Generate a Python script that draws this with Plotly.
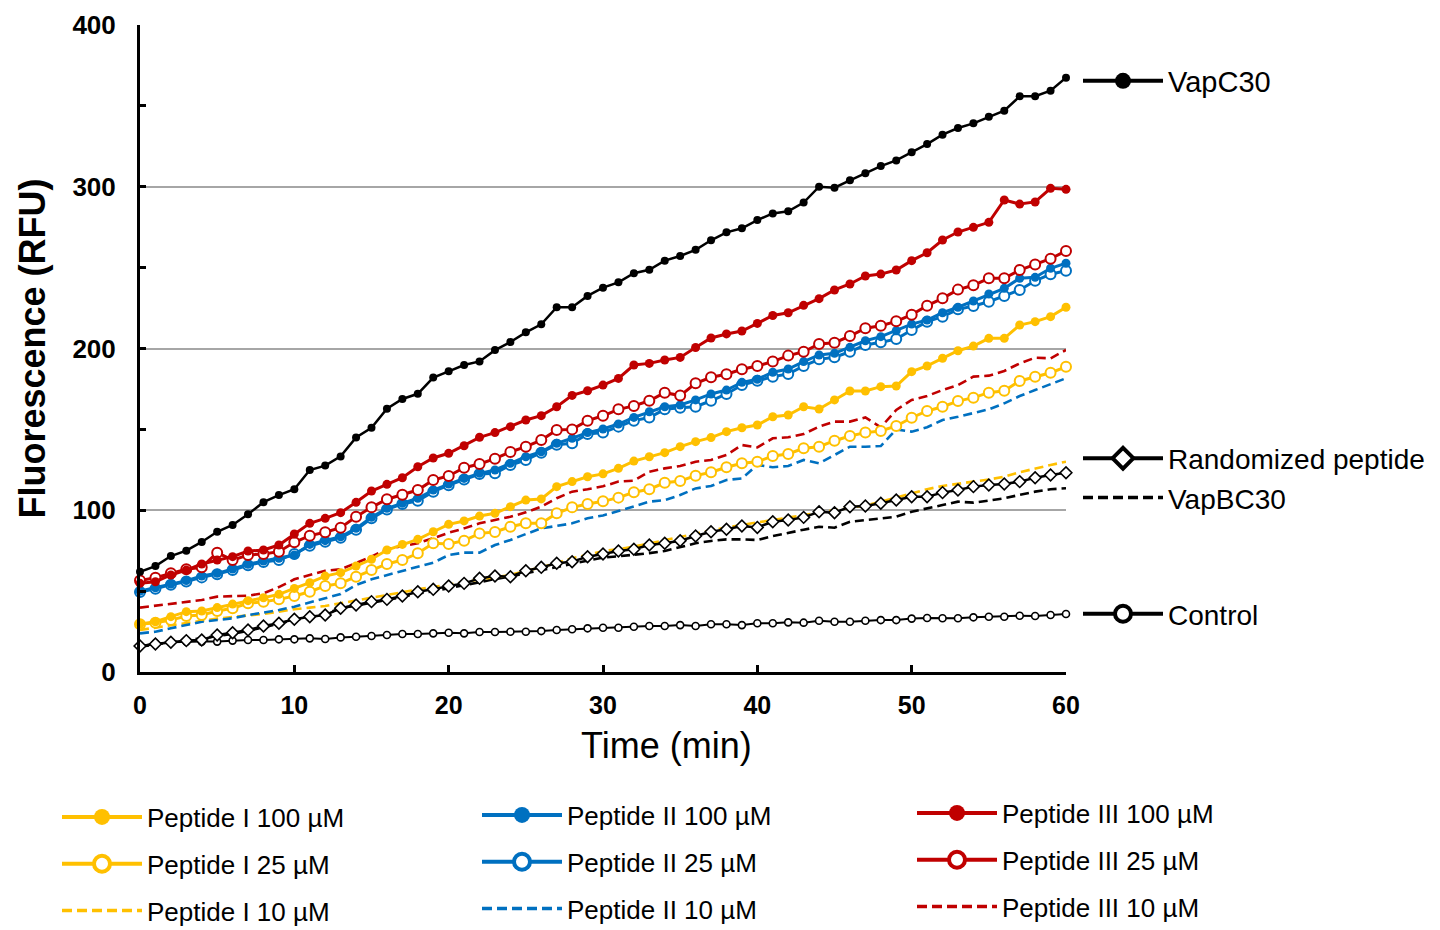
import plotly.graph_objects as go

# ---------------- data ----------------
time_min = list(range(61))

vapc30 = [62, 65.5, 71.7, 75, 80.4, 86.7, 90.9, 97.5, 105, 109.4,
          113, 124.9, 127.6, 133.3, 145, 151, 162.8, 168.8, 172, 182,
          185.9, 189.8, 192, 199, 204, 210, 215, 225.5, 225.5, 232.5,
          237.6, 240.9, 246.5, 248.7, 254.3, 257.2, 261, 266.9, 271.8, 274.3,
          279.4, 283.5, 284.8, 290.2, 300, 299.4, 304, 308.3, 312.8, 316.3,
          321.3, 326.4, 332.2, 336.3, 339.2, 343.3, 347, 355.9, 356, 359.4, 367.4]

pep3_100 = [54.8, 55.8, 60, 63, 66.8, 69.2, 71.3, 74.8, 75.4, 78.5,
            85.3, 91.9, 95, 98.5, 104.9, 111.9, 116, 120.1, 126.9, 132.3,
            135.2, 139.9, 145.1, 148, 151.7, 155.8, 158.5, 164, 171, 173.9,
            177.4, 181.5, 189.8, 190.8, 192.9, 194.5, 200.6, 206.5, 209, 210.8,
            215.5, 220.4, 222.1, 226.7, 230.8, 236.2, 239.9, 244.8, 246, 248.5,
            254.3, 259.2, 267.1, 272, 274.9, 278, 291.8, 289.3, 290.6, 299, 298.4]

pep3_25 = [56.5, 58.3, 61, 63.5, 64.7, 73.8, 69.2, 72.3, 73, 74.4,
           80.2, 84.3, 86.4, 89.2, 96, 101.8, 106.8, 109.6, 112.5, 118.7,
           121.2, 126.3, 128.6, 131.9, 136, 139.3, 143.4, 149.6, 150, 155.4,
           158.4, 162.4, 164.5, 167.7, 172.7, 170.9, 178.5, 182.2, 184.1, 187.2,
           189.2, 191.9, 195.6, 198, 202.8, 203.6, 207.7, 212.5, 214.1, 216.8,
           220.9, 226.5, 231, 236.4, 239.1, 243.4, 243.4, 248.5, 252, 255.5, 260.3]

pep3_10 = [39.8, 41, 42, 43.2, 44.5, 46.6, 47, 47.2, 48.7, 52.5,
           57.3, 60, 62.6, 63.5, 67.2, 71.3, 76, 77.9, 79.6, 82.7,
           86.1, 88.8, 91.9, 94, 96, 98.7, 102.2, 107.4, 111.5, 113,
           114.8, 117.7, 118.3, 123.8, 125.9, 127.4, 130, 131.1, 134.2, 140.3,
           138.9, 144.5, 145.1, 147.1, 151.7, 154.8, 154.8, 157.4, 151.3, 162,
           168.2, 170.6, 174.3, 177.4, 182.6, 183.2, 186.1, 190.8, 194.3, 193.9, 199.1]

pep2_100 = [50, 52.1, 54.4, 56.5, 59.3, 61, 63.7, 66.6, 68.6, 70.3,
            72.3, 78.9, 81.2, 83.6, 88.8, 95.6, 101.2, 104.3, 107.4, 112.5,
            116.2, 119.7, 122.8, 124.9, 129, 133.1, 136.2, 141.4, 144.5, 148,
            150.2, 153.3, 157.4, 160.9, 164, 165.1, 168.2, 171.9, 174.3, 179.1,
            181, 185.3, 187.3, 191.9, 196, 197, 200.7, 204.8, 207.3, 211,
            215.1, 217.6, 222.1, 225.5, 229.4, 233.7, 237.2, 243.4, 244, 249.6, 252.7]

pep2_25 = [49.5, 51.5, 54, 56, 58.5, 60.5, 63, 66, 68, 69.2,
           73, 78, 80.5, 83, 88, 95, 100.5, 103.9, 105.9, 111.5,
           115.5, 119, 122.4, 122.8, 128, 131, 135.5, 140.5, 141.4, 147.1,
           148, 151.7, 155.4, 157.3, 162.4, 163.4, 164, 167.7, 171.9, 177.4,
           180.1, 182.6, 184.2, 189.2, 193.3, 194.6, 198, 202.2, 203.8, 205.9,
           211.4, 216.6, 219.7, 224.2, 226.3, 228.9, 232.5, 236.2, 241.9, 245.9, 248.1]

pep2_10 = [23.9, 24.9, 27, 29, 31.1, 32.1, 33.2, 35.2, 36.7, 38.3,
           40.4, 42.8, 45.6, 48.2, 53.8, 57.3, 60, 62.6, 65.1, 67.6,
           72.3, 73.8, 73.8, 78.5, 81.6, 85.3, 88.8, 90.3, 91.9, 95,
           96.8, 99.5, 102.2, 105.3, 106.3, 109.4, 113.5, 115, 118.7, 119.7,
           128, 126.6, 127.4, 131.1, 129, 134.2, 139.3, 139.3, 139.7, 150,
           148.6, 151.3, 155.8, 157.8, 160.3, 162.4, 166.1, 170.6, 174.3, 177.9, 181.6]

pep1_100 = [29.7, 31.1, 34.2, 37.3, 37.7, 39.8, 42, 44.1, 45.9, 48,
            51.7, 55.2, 59.3, 61.4, 65.5, 69.7, 75.4, 78.9, 82, 86.7,
            91.3, 93.4, 96.4, 98.1, 102.2, 106.3, 107, 114.6, 117.7, 120.7,
            122.5, 125.9, 130.4, 133.1, 135.6, 139.3, 142.4, 144.9, 148.6, 151,
            152.7, 157.8, 158.9, 164, 162.6, 168.2, 173.7, 173.7, 176.4, 176.8,
            185.7, 189.2, 194, 198.6, 201.5, 206.3, 206.3, 214.5, 216.6, 219.7, 225.5]

pep1_25 = [29.5, 30.5, 32.1, 34.6, 35.2, 37.7, 39.4, 42.5, 43.5, 44.9,
           47, 49.6, 53.2, 54.8, 58.9, 63.1, 66.8, 69.2, 73.4, 79.6,
           79.1, 81.2, 85.7, 86.6, 89.8, 91.9, 91.9, 98.1, 101.8, 103.9,
           105.5, 107.8, 111.1, 113, 117, 118.1, 121.4, 123.5, 126.6, 129,
           130, 133.5, 134.8, 138.3, 139.3, 143, 145.9, 148, 149, 152.1,
           157.2, 161.4, 164, 167.5, 169.6, 172.7, 173.9, 179.9, 182.6, 185, 188.7]

pep1_10 = [26, 27.5, 29, 30.5, 31.7, 33, 34.2, 35, 35.9, 37.5,
           38.8, 39.8, 40.8, 42.5, 44.1, 46, 47.6, 49.3, 51.1, 52.5,
           53.8, 55.5, 57.3, 58.6, 60, 62.5, 64.7, 67.5, 70.3, 72.5,
           74.7, 76, 77.5, 79.5, 81.6, 83.5, 85.7, 87.5, 89.4, 91,
           92.3, 94, 95.6, 97, 98.5, 100, 101.2, 103, 105.3, 108,
           110.5, 113, 115, 116.5, 117.7, 119, 120.7, 123.5, 125.9, 128, 130]

randomized = [16.1, 17.3, 18.4, 19.4, 19.8, 22.9, 24.3, 26, 28.4, 30.1,
              32.6, 34.2, 35.2, 39.4, 41.4, 43.5, 44.9, 47, 49.6, 51.1,
              53.2, 54.8, 57.9, 59.3, 58.9, 62.6, 64.7, 67.2, 68.2, 71.3,
              73, 74.8, 75.9, 78.5, 79.6, 81.2, 84.1, 86.7, 88.2, 90.3,
              89.4, 92.9, 94, 95.6, 99.1, 98.5, 102.2, 102.6, 104.3, 106.3,
              108.4, 108.4, 110.9, 112.5, 114.6, 115.6, 116.2, 117.7, 120.1, 121.8, 123.2]

vapbc30 = [15.7, 17, 18.2, 19.5, 20.5, 22, 23.5, 25.5, 27.5, 30,
           32.1, 34, 36, 39.4, 41, 43, 44.5, 46.5, 48.5, 50,
           51.7, 53.5, 55.5, 57.5, 59, 61, 63, 65, 67, 69,
           70.8, 71.5, 72.3, 73.5, 74.8, 77, 79.6, 81, 82, 82,
           81.6, 84, 86.1, 88, 89.8, 89.2, 92.9, 94, 95, 96,
           99.1, 101, 103.2, 105.3, 104.7, 106, 107.4, 109.5, 111.5, 113, 113.6]

control = [16.1, 17.7, 18.4, 18.8, 18.8, 18.8, 19.4, 19.8, 19.8, 20.2,
           20.2, 20.8, 20.4, 21.4, 21.8, 22.3, 22.9, 23.5, 23.5, 23.9,
           24.3, 23.9, 24.7, 24.7, 24.9, 24.9, 25.3, 26, 26.4, 27,
           27.4, 27.4, 28, 28.4, 28.4, 29, 28.4, 29.5, 29.5, 29,
           30.1, 30.1, 30.7, 30.5, 31.7, 31.1, 31.1, 31.7, 32.1, 32.1,
           33, 33.4, 33.2, 33.2, 33.8, 34.2, 34.2, 34.8, 34.6, 35.2, 35.9]

x_ticks = [0, 10, 20, 30, 40, 50, 60]
y_ticks = [0, 100, 200, 300, 400]

GOLD = "#FFC000"
BLUE = "#0070C0"
RED = "#C00000"
BLACK = "#000000"
FONT = "Arial, Liberation Sans, sans-serif"

# name, values, colour, style, legend, line width, marker size (draw order)
series = [
    ("Control", control, BLACK, "open", "legend3", 2, 7),
    ("VapBC30", vapbc30, BLACK, "dash", "legend2", 2.6, 0),
    ("Peptide I 10 µM", pep1_10, GOLD, "dash", "legend4", 2.6, 0),
    ("Peptide II 10 µM", pep2_10, BLUE, "dash", "legend5", 2.6, 0),
    ("Peptide III 10 µM", pep3_10, RED, "dash", "legend6", 2.6, 0),
    ("Randomized peptide", randomized, BLACK, "diamond", "legend2", 2.5, 9),
    ("Peptide I 25 µM", pep1_25, GOLD, "open", "legend4", 3, 10),
    ("Peptide I 100 µM", pep1_100, GOLD, "filled", "legend4", 3, 9),
    ("Peptide II 25 µM", pep2_25, BLUE, "open", "legend5", 3, 10),
    ("Peptide II 100 µM", pep2_100, BLUE, "filled", "legend5", 3, 9),
    ("Peptide III 25 µM", pep3_25, RED, "open", "legend6", 3, 10),
    ("Peptide III 100 µM", pep3_100, RED, "filled", "legend6", 3, 9),
    ("VapC30", vapc30, BLACK, "filled", "legend", 2.5, 8),
]

legend_order = ["VapC30", "Randomized peptide", "VapBC30", "Control",
                "Peptide I 100 µM", "Peptide I 25 µM", "Peptide I 10 µM",
                "Peptide II 100 µM", "Peptide II 25 µM", "Peptide II 10 µM",
                "Peptide III 100 µM", "Peptide III 25 µM", "Peptide III 10 µM"]

fig = go.Figure()

def style(kind, color, lw, msize, big=False):
    if kind == "dash":
        return "lines", dict(color=color, width=3.5 if big else lw,
                             dash="10px,5px" if big else "9px,5px"), None
    line = dict(color=color, width=4 if big else lw)
    size = 16 if big else msize
    if kind == "filled":
        marker = dict(symbol="circle", size=size, color=color, line=dict(color=color, width=0))
    elif kind == "open":
        marker = dict(symbol="circle", size=size, color="white",
                      line=dict(color=color, width=4 if big else (2 if msize > 8 else 1.6)))
    else:
        marker = dict(symbol="diamond", size=size + (2 if big else 0), color="white",
                      line=dict(color=color, width=4 if big else 1.6))
    return "lines+markers", line, marker

info = {}
for name, vals, color, kind, leg, lw, ms in series:
    info[name] = (color, kind, leg, lw, ms)
    mode, line, marker = style(kind, color, lw, ms)
    fig.add_trace(go.Scatter(x=time_min, y=vals, mode=mode, name=name, line=line,
                             marker=marker, legendgroup=name, showlegend=False,
                             cliponaxis=False))

# legend entries (no data of their own; linked to the data traces by legendgroup)
for name in legend_order:
    color, kind, leg, lw, ms = info[name]
    mode, line, marker = style(kind, color, lw, ms, big=True)
    fig.add_trace(go.Scatter(x=[None], y=[None], mode=mode, name=name, line=line,
                             marker=marker, legendgroup=name, showlegend=True,
                             legend=leg))

W, H = 1440, 930
L, R, T, B = 140, 374, 25, 258
pw, ph = W - L - R, H - T - B

def px2paper_x(px):
    return (px - L) / pw

def px2paper_y(py):
    return (H - B - py) / ph

leg_common = dict(bgcolor="rgba(0,0,0,0)", borderwidth=0, itemwidth=80,
                  xanchor="left", yanchor="middle", traceorder="grouped")

fig.update_layout(
    width=W, height=H,
    margin=dict(l=L, r=R, t=T, b=B, pad=0, autoexpand=False),
    paper_bgcolor="white", plot_bgcolor="white",
    font=dict(family=FONT, color="black"),
    xaxis=dict(range=[0, 60], tickvals=x_ticks, ticks="inside", ticklen=7,
               tickwidth=3, tickcolor="black", showline=True, linecolor="black",
               linewidth=3, showgrid=False, zeroline=False,
               tickfont=dict(family=FONT, size=25, color="black", weight="bold"),
               ticklabelstandoff=9),
    yaxis=dict(range=[0, 400], tickvals=y_ticks, ticks="inside", ticklen=6,
               tickwidth=3, tickcolor="black", showline=True, linecolor="black",
               linewidth=3, showgrid=True, gridcolor="#a6a6a6", gridwidth=2,
               zeroline=False,
               minor=dict(dtick=50, ticks="inside", ticklen=6, tickwidth=3,
                          tickcolor="black", showgrid=False),
               tickfont=dict(family=FONT, size=26, color="black", weight="bold"),
               ticklabelstandoff=16,
               title=dict(text="Fluorescence (RFU)",
                          font=dict(family=FONT, size=36, color="black", weight="bold"),
                          standoff=16)),
    annotations=[dict(text="Time (min)", xref="paper", yref="paper",
                      x=px2paper_x(666), y=px2paper_y(745), xanchor="center",
                      yanchor="middle", showarrow=False,
                      font=dict(family=FONT, size=36, color="black"))],
    legend=dict(x=px2paper_x(1078), y=px2paper_y(81), font=dict(size=29, family=FONT),
                tracegroupgap=0, **leg_common),
    legend2=dict(x=px2paper_x(1078), y=px2paper_y(478), font=dict(size=28, family=FONT),
                 tracegroupgap=0, **leg_common),
    legend3=dict(x=px2paper_x(1078), y=px2paper_y(614), font=dict(size=28, family=FONT),
                 tracegroupgap=0, **leg_common),
    legend4=dict(x=px2paper_x(57), y=px2paper_y(864), font=dict(size=26, family=FONT),
                 tracegroupgap=10, **leg_common),
    legend5=dict(x=px2paper_x(477), y=px2paper_y(862), font=dict(size=26, family=FONT),
                 tracegroupgap=10, **leg_common),
    legend6=dict(x=px2paper_x(912), y=px2paper_y(860), font=dict(size=26, family=FONT),
                 tracegroupgap=10, **leg_common),
)

fig.write_html("out.html")
